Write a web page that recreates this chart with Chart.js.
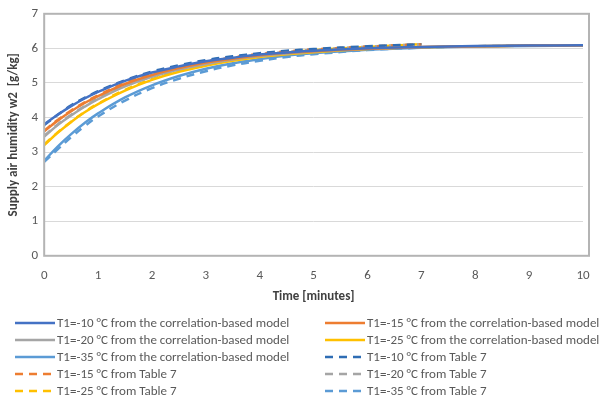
<!DOCTYPE html>
<html>
<head>
<meta charset="utf-8">
<script src="https://cdn.jsdelivr.net/npm/chart.js@4.4.0/dist/chart.umd.min.js"></script>
<style>
  body { margin: 0; background: #fff; }
  #wrap { width: 602px; height: 401px; }
</style>
</head>
<body>
<div id="wrap"><canvas id="myChart" width="602" height="401"></canvas></div>
<script>
const modelTimes = [0, 0.25, 0.5, 0.75, 1, 1.5, 2, 2.5, 3, 3.5, 4, 4.5, 5, 6, 7, 8, 9, 10];
const tableTimes = [0, 0.25, 0.5, 0.75, 1, 1.5, 2, 2.5, 3, 3.5, 4, 4.5, 5, 6, 7];
const tableTimes35 = [0, 0.25, 0.5, 0.75, 1, 1.5, 2, 2.5, 3, 3.5, 4, 4.5, 5, 6, 7, 8, 9, 10];

const model10 = [3.8, 4.08, 4.33, 4.55, 4.74, 5.06, 5.3, 5.48, 5.63, 5.73, 5.82, 5.88, 5.93, 6.0, 6.04, 6.07, 6.08, 6.09];
const model15 = [3.6, 3.91, 4.18, 4.42, 4.62, 4.97, 5.23, 5.43, 5.59, 5.7, 5.8, 5.87, 5.92, 5.99, 6.04, 6.06, 6.08, 6.09];
const model20 = [3.45, 3.78, 4.06, 4.31, 4.53, 4.9, 5.18, 5.39, 5.55, 5.68, 5.78, 5.85, 5.91, 5.99, 6.03, 6.06, 6.08, 6.09];
const model25 = [3.2, 3.56, 3.87, 4.15, 4.39, 4.78, 5.09, 5.32, 5.5, 5.64, 5.75, 5.83, 5.89, 5.98, 6.03, 6.06, 6.08, 6.09];
const model35 = [2.75, 3.16, 3.52, 3.84, 4.12, 4.58, 4.93, 5.2, 5.41, 5.57, 5.69, 5.79, 5.86, 5.96, 6.02, 6.05, 6.07, 6.08];

const table10 = [3.78, 4.08, 4.35, 4.57, 4.76, 5.08, 5.33, 5.51, 5.66, 5.77, 5.86, 5.93, 5.98, 6.06, 6.12];
const table15 = [3.62, 3.93, 4.2, 4.44, 4.64, 5.0, 5.26, 5.46, 5.62, 5.74, 5.84, 5.91, 5.97, 6.05, 6.12];
const table20 = [3.47, 3.8, 4.08, 4.33, 4.55, 4.92, 5.21, 5.42, 5.59, 5.72, 5.82, 5.9, 5.96, 6.05, 6.12];
const table25 = [3.22, 3.57, 3.88, 4.16, 4.4, 4.8, 5.11, 5.35, 5.54, 5.68, 5.79, 5.88, 5.95, 6.04, 6.12];
const table35 = [2.72, 3.08, 3.43, 3.75, 4.03, 4.49, 4.85, 5.12, 5.34, 5.51, 5.64, 5.75, 5.83, 5.95, 6.02, 6.06, 6.08, 6.09];

const labels = [
  "T1=-10 \u00B0C from the correlation-based model",
  "T1=-15 \u00B0C from the correlation-based model",
  "T1=-20 \u00B0C from the correlation-based model",
  "T1=-25 \u00B0C from the correlation-based model",
  "T1=-35 \u00B0C from the correlation-based model",
  "T1=-10 \u00B0C from Table 7",
  "T1=-15 \u00B0C from Table 7",
  "T1=-20 \u00B0C from Table 7",
  "T1=-25 \u00B0C from Table 7",
  "T1=-35 \u00B0C from Table 7",
];

const FONT = "Carlito, 'Liberation Sans Narrow', 'Open Sans', sans-serif";
const dash = [8, 6];

const pts = (xs, ys) => xs.map((x, i) => ({ x: x, y: ys[i] }));

const line = (label, xs, ys, color, dashed) => ({
  label: label,
  data: pts(xs, ys),
  borderColor: color,
  backgroundColor: color,
  borderWidth: 2.5,
  borderDash: dashed ? dash : [],
  pointRadius: 0,
  tension: 0.4,
  fill: false,
});

// draws the box round the plot and the two-column legend under it
const framePlugin = {
  id: "frame",
  afterDatasetsDraw: (chart) => {
    const c = chart.ctx;
    const a = chart.chartArea;
    c.save();
    c.strokeStyle = "#b4b4b4";
    c.lineWidth = 2;
    c.strokeRect(a.left, a.top, a.right - a.left + 6, a.bottom - a.top);
    c.restore();
  },
  afterDraw: (chart) => {
    const c = chart.ctx;
    c.save();
    chart.data.datasets.forEach((ds, i) => {
      const col = i % 2;
      const row = Math.floor(i / 2);
      const x0 = col === 0 ? 15 : 325;
      const y = 323 + row * 17;
      c.strokeStyle = ds.borderColor;
      c.lineWidth = 2.5;
      c.setLineDash(ds.borderDash);
      c.beginPath();
      c.moveTo(x0, y);
      c.lineTo(x0 + 40, y);
      c.stroke();
      c.setLineDash([]);
      c.fillStyle = "#595959";
      c.font = "13px " + FONT;
      c.textBaseline = "middle";
      c.fillText(ds.label, x0 + 42, y + 1);
    });
    c.restore();
  },
};

const ctx = document.getElementById("myChart");
const chart = new Chart(ctx, {
  type: "line",
  data: {
    datasets: [
      line(labels[0], modelTimes, model10, "#4472C4", false),
      line(labels[1], modelTimes, model15, "#ED7D31", false),
      line(labels[2], modelTimes, model20, "#A5A5A5", false),
      line(labels[3], modelTimes, model25, "#FFC000", false),
      line(labels[4], modelTimes, model35, "#5B9BD5", false),
      line(labels[5], tableTimes, table10, "#2E6DB4", true),
      line(labels[6], tableTimes, table15, "#ED7D31", true),
      line(labels[7], tableTimes, table20, "#A5A5A5", true),
      line(labels[8], tableTimes, table25, "#FFC000", true),
      line(labels[9], tableTimes35, table35, "#5B9BD5", true),
    ],
  },
  options: {
    responsive: false,
    animation: false,
    layout: { padding: { top: 8, right: 19, bottom: 92, left: 2 } },
    plugins: {
      legend: { display: false },
      tooltip: { enabled: false },
    },
    scales: {
      x: {
        type: "linear",
        min: 0,
        max: 10,
        ticks: { stepSize: 1, color: "#595959", font: { family: FONT, size: 13 }, padding: 4 },
        grid: { display: false },
        border: { display: false },
        title: { display: true, text: "Time [minutes]", color: "#404040", font: { family: FONT, size: 13, weight: "bold" }, padding: { top: 2 } },
      },
      y: {
        min: 0,
        max: 7,
        ticks: { stepSize: 1, color: "#595959", font: { family: FONT, size: 13 }, padding: 6 },
        grid: { color: "#d9d9d9", lineWidth: 1, drawTicks: false },
        border: { display: false },
        title: { display: true, text: "Supply air humidity w2  [g/kg]", color: "#404040", font: { family: FONT, size: 13, weight: "bold" }, padding: { bottom: 4 } },
      },
    },
  },
  plugins: [framePlugin],
});
</script>
</body>
</html>
